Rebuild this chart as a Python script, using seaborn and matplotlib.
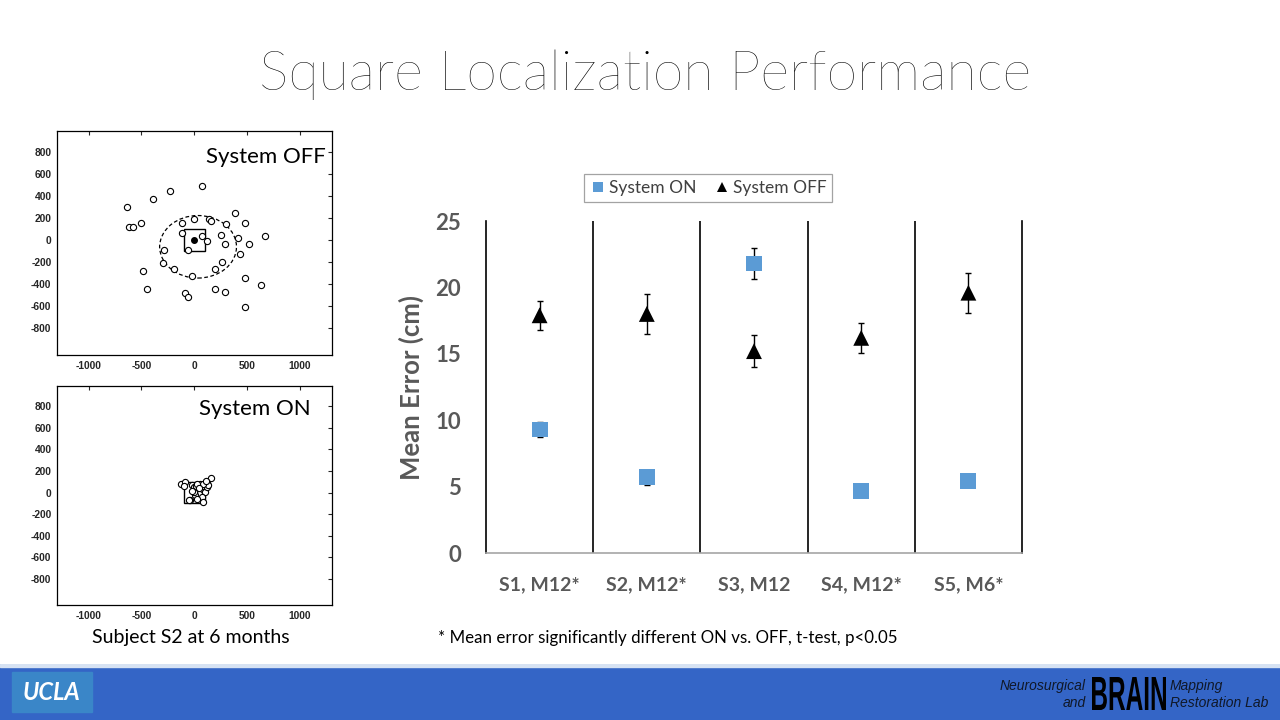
import matplotlib
matplotlib.use("Agg")
import matplotlib.pyplot as plt
from matplotlib.patches import Rectangle, Ellipse, PathPatch
from matplotlib.textpath import TextPath
from matplotlib.font_manager import FontProperties
from matplotlib.transforms import Affine2D
import seaborn as sns
import pandas as pd

# --- data ---
subjects = ["S1, M12*", "S2, M12*", "S3, M12", "S4, M12*", "S5, M6*"]
on_mean = [9.3, 5.7, 21.8, 4.7, 5.4]
on_err = [0.6, 0.55, 1.2, 0.3, 0.3]
off_mean = [17.9, 18.0, 15.2, 16.2, 19.6]
off_err = [1.1, 1.5, 1.2, 1.15, 1.5]

# subject S2 at 6 months, touch positions (screen units)
off_x = [-637, -622, -581, -506, -387, -225, 72, -116, -6, 137, 159, 300, 384, 478,
         -116, 78, 119, 253, 291, 412, 516, 669, -284, -62, -300, -194, -19, 197,
         259, 431, -481, -447, -84, -62, 200, 291, 478, 634, 478]
off_y = [304, 120, 120, 156, 373, 442, 493, 150, 195, 189, 171, 141, 247, 156,
         60, 33, -9, 45, -33, 15, -39, 33, -87, -87, -205, -262, -331, -262,
         -196, -129, -283, -448, -478, -517, -442, -469, -346, -406, -608]
on_x = [-125, -84, -94, 159, 119, 87, -22, -6, 25, 56, 103, 41, 9, 72, -37, -53,
        81, 25, -6, 119, 134, 56, 87, 16, -22, 112, 25, 41]
on_y = [84, 99, 63, 132, 93, 63, 72, 48, 33, 18, 3, -12, -27, -42, -66, -72,
        -87, -57, 3, 48, 72, 78, 84, 60, 18, 108, 84, 39]

sns.set_style("white")
plt.rcParams["font.family"] = ["Lato", "DejaVu Sans"]
plt.rcParams["axes.unicode_minus"] = False

fig = plt.figure(figsize=(12.8, 7.2), dpi=100)
fig.patch.set_facecolor("white")

fig.text(0.504, 1 - 75 / 720, "Square Localization Performance", ha="center", va="center",
         fontsize=40, fontweight="light", color="black")


# --- scatter panels ---
def scatter_panel(rect, xs, ys, label, lx, ly, center_dot, ellipse=False):
    ax = fig.add_axes(rect)
    df = pd.DataFrame({"x": xs, "y": ys})
    ax.add_patch(Rectangle((-100, -100), 200, 200, fill=False, ec="black", lw=1.0, zorder=2))
    if ellipse:
        ax.add_patch(Ellipse((36, -62), 728, 568, fill=False, ec="black", lw=0.9,
                             ls=(0, (3, 2)), zorder=2))
    sns.scatterplot(data=df, x="x", y="y", ax=ax, s=20, facecolor="white",
                    edgecolor="black", linewidth=0.8, zorder=3)
    if center_dot:
        ax.plot([0], [0], "o", color="black", ms=4, zorder=4)
    ax.set_xlim(-1300, 1305)
    ax.set_ylim(-1045, 990)
    ax.set_xticks([-1000, -500, 0, 500, 1000])
    ax.set_yticks(range(-800, 801, 200))
    ax.tick_params(direction="in", length=3, width=0.8, labelsize=7.4,
                   top=True, right=True, pad=4)
    for t in ax.get_xticklabels() + ax.get_yticklabels():
        t.set_fontweight("bold")
        t.set_family("Liberation Sans")
    ax.set_xlabel("")
    ax.set_ylabel("")
    for s in ax.spines.values():
        s.set_color("black")
        s.set_linewidth(0.9)
    ax.text(lx, ly, label, transform=ax.transAxes, ha="center", va="center",
            fontsize=16, color="black")
    return ax


scatter_panel([57 / 1280, 365 / 720, 275 / 1280, 224 / 720], off_x, off_y,
              "System OFF", 0.76, 0.884, True, ellipse=True)
scatter_panel([57 / 1280, 115 / 720, 275 / 1280, 219 / 720], on_x, on_y,
              "System ON", 0.72, 0.895, False)
fig.text(191 / 1280, 1 - 638 / 720, "Subject S2 at 6 months", ha="center", va="center",
         fontsize=14, color="black")

# --- main chart ---
ax = fig.add_axes([486 / 1280, 167 / 720, 536 / 1280, 332 / 720])
pos = list(range(len(subjects)))
main = pd.DataFrame({
    "pos": pos * 2,
    "err": on_mean + off_mean,
    "cond": ["System ON"] * len(pos) + ["System OFF"] * len(pos),
})
ax.errorbar(pos, on_mean, yerr=on_err, fmt="none", ecolor="black", elinewidth=1,
            capsize=2.5, capthick=1, zorder=2)
ax.errorbar(pos, off_mean, yerr=off_err, fmt="none", ecolor="black", elinewidth=1,
            capsize=2.5, capthick=1, zorder=2)
sns.scatterplot(data=main, x="pos", y="err", hue="cond", style="cond",
                palette={"System ON": "#5B9BD5", "System OFF": "black"},
                markers={"System ON": "s", "System OFF": "^"},
                s=130, linewidth=0, ax=ax, zorder=3)
for b in [0.5, 1.5, 2.5, 3.5]:
    ax.axvline(b, color="black", lw=1.2, zorder=1)
ax.set_xlim(-0.5, 4.5)
ax.set_ylim(0, 25)
ax.set_yticks([0, 5, 10, 15, 20, 25])
ax.set_xticks(pos)
ax.set_xticklabels(subjects)
ax.tick_params(axis="both", length=0)
ax.tick_params(axis="y", labelsize=16, colors="#595959", pad=18)
ax.tick_params(axis="x", labelsize=14, colors="#595959", pad=17)
for t in ax.get_xticklabels() + ax.get_yticklabels():
    t.set_fontweight("bold")
ax.set_xlabel("")
ax.set_ylabel("Mean Error (cm)", fontsize=18.5, fontweight="bold", color="#595959", labelpad=8)
ax.spines["top"].set_visible(False)
ax.spines["left"].set_color("black")
ax.spines["left"].set_linewidth(1.2)
ax.spines["right"].set_color("black")
ax.spines["right"].set_linewidth(1.2)
ax.spines["bottom"].set_color("#a6a6a6")
ax.spines["bottom"].set_linewidth(1.2)

leg = ax.legend(loc="center", bbox_to_anchor=(708 / 1280, 1 - 188 / 720),
                bbox_transform=fig.transFigure, ncol=2, frameon=True, fancybox=False,
                fontsize=12.5, handletextpad=0.1, columnspacing=1.0, borderpad=0.35,
                markerscale=0.65, handlelength=1.0)
leg.get_frame().set_edgecolor("#8c8c8c")
leg.get_frame().set_linewidth(0.9)
for t in leg.get_texts():
    t.set_color("#404040")

fig.text(438 / 1280, 1 - 638 / 720, "* Mean error significantly different ON vs. OFF, t-test, p<0.05",
         ha="left", va="center", fontsize=12.2, color="black")

# --- footer banner ---
ban = fig.add_axes([0, 0, 1, 56 / 720])
ban.set_xlim(0, 1280)
ban.set_ylim(0, 56)
ban.axis("off")
ban.add_patch(Rectangle((0, 0), 1280, 56, color="#3465c6", zorder=0))
ban.add_patch(Rectangle((0, 53), 1280, 3, color="#d6e2f3", zorder=1))
ban.add_patch(Rectangle((12, 8), 80, 40, color="#3a86c8", zorder=1))
ban.text(52, 28, "UCLA", ha="center", va="center", fontsize=17, fontweight="bold",
         style="italic", color="white", zorder=2)
ban.text(1086, 34, "Neurosurgical", ha="right", va="center", fontsize=10, style="italic",
         color="#101828", family="Liberation Sans")
ban.text(1086, 17, "and", ha="right", va="center", fontsize=10, style="italic",
         color="#101828", family="Liberation Sans")
ban.text(1170, 34, "Mapping", ha="left", va="center", fontsize=10, style="italic",
         color="#101828", family="Liberation Sans")
ban.text(1170, 17, "Restoration Lab", ha="left", va="center", fontsize=10, style="italic",
         color="#101828", family="Liberation Sans")

# condensed "BRAIN" logo word, squeezed to the logo box
tp = TextPath((0, 0), "BRAIN", size=1,
              prop=FontProperties(family="Liberation Sans", weight="bold"))
bb = tp.get_extents()
tr = (Affine2D().translate(-bb.x0, -bb.y0).scale(74 / bb.width, 33 / bb.height)
      .translate(1092, 10))
ban.add_patch(PathPatch(tr.transform_path(tp), fc="black", ec="none", zorder=3))

fig.savefig("out.png", dpi=100)
